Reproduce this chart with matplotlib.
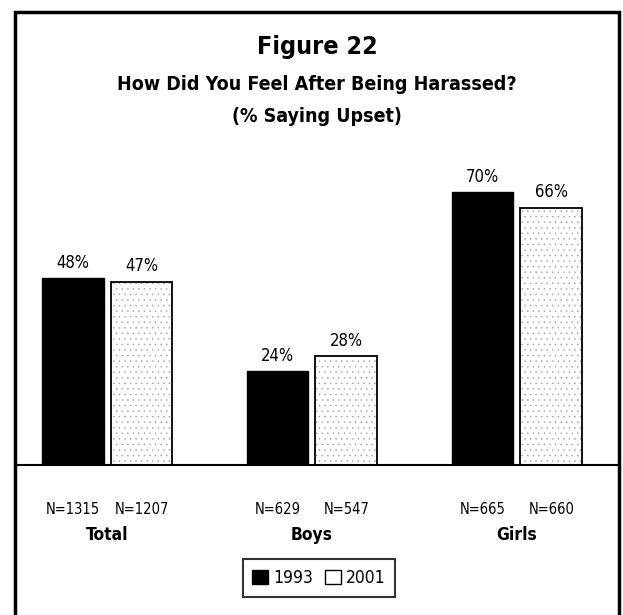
import matplotlib
matplotlib.use("Agg")
import matplotlib.pyplot as plt
from matplotlib.patches import Rectangle, Patch
import numpy as np

categories = ["Total", "Boys", "Girls"]
years = ["1993", "2001"]
values_1993 = [48, 24, 70]
values_2001 = [47, 28, 66]
n_1993 = ["N=1315", "N=629", "N=665"]
n_2001 = ["N=1207", "N=547", "N=660"]

plt.rcParams['font.family'] = ['DejaVu Sans']
plt.rcParams['font.stretch'] = 'condensed'

W, H = 623, 615
fig = plt.figure(figsize=(W/100, H/100), dpi=100)

# outer frame
fig.patches.append(Rectangle((15/W, -0.05), (619-15)/W, (H-12)/H + 0.05,
                             transform=fig.transFigure, fill=False,
                             edgecolor='black', linewidth=2.5))

ax_left, ax_right = 15/W, 619/W
ax_bottom = (H-465)/H
ax_top = (H-140)/H
ax = fig.add_axes([ax_left, ax_bottom, ax_right-ax_left, ax_top-ax_bottom])
ax.set_xlim(-0.449, 2.498)
ax.set_ylim(0, 325/3.9)
for s in ['left', 'right', 'top']:
    ax.spines[s].set_visible(False)
ax.spines['bottom'].set_linewidth(1.5)
ax.set_yticks([])
ax.set_xticks([])
ax.patch.set_alpha(0)

x = np.arange(len(categories))
w = 0.302
off = 0.168
plt.rcParams['hatch.linewidth'] = 0.3
b1 = ax.bar(x - off, values_1993, w, color='black', edgecolor='black')
ax.bar(x + off, values_2001, w, color='white', edgecolor='#9a9a9a',
       linewidth=0, hatch='...')
b2 = ax.bar(x + off, values_2001, w, fill=False, edgecolor='black', linewidth=1.3)
for bars in (b1, b2):
    for r in bars:
        ax.text(r.get_x() + r.get_width()/2, r.get_height() + 1.6,
                f"{int(r.get_height())}%", ha='center', va='bottom', fontsize=12)

for i in range(len(categories)):
    ax.text(x[i] - off, -11.5, n_1993[i], ha='center', va='center', fontsize=10.5,
            clip_on=False)
    ax.text(x[i] + off, -11.5, n_2001[i], ha='center', va='center', fontsize=10.5,
            clip_on=False)
    ax.text(x[i], -18.0, categories[i], ha='center', va='center', fontsize=12.5,
            fontweight='bold', clip_on=False)

fig.text(317/W, 1 - 47/H, "Figure 22", ha='center', va='center',
         fontsize=18, fontweight='bold')
fig.text(317/W, 1 - 84/H, "How Did You Feel After Being Harassed?", ha='center',
         va='center', fontsize=14, fontweight='bold')
fig.text(317/W, 1 - 117/H, "(% Saying Upset)", ha='center', va='center',
         fontsize=14, fontweight='bold')

handles = [Patch(facecolor='black', edgecolor='black', label=years[0]),
           Patch(facecolor='white', edgecolor='black', label=years[1])]
leg = fig.legend(handles=handles, loc='center', bbox_to_anchor=(319/W, 1 - 578/H),
                 ncol=2, fontsize=12.5, frameon=True, fancybox=False,
                 handlelength=0.9, handleheight=0.9, handletextpad=0.3,
                 columnspacing=0.7, borderpad=0.55)
leg.get_frame().set_edgecolor('black')
leg.get_frame().set_linewidth(1.5)

fig.savefig("out.png", dpi=100)
